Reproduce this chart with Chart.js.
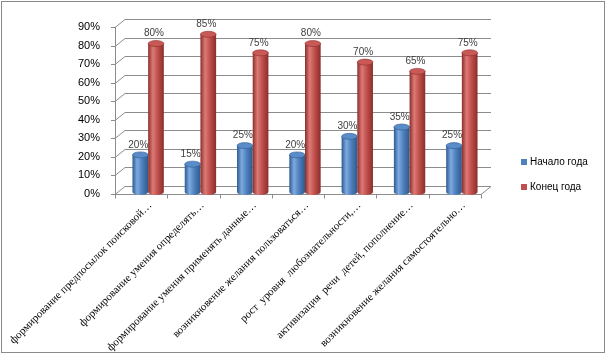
<!DOCTYPE html>
<html>
<head>
<meta charset="utf-8">
<script src="https://cdn.jsdelivr.net/npm/chart.js@4"></script>
<style>
  body { margin: 0; background: #fff; }
</style>
</head>
<body>
<canvas id="chart" width="608" height="356"></canvas>
<script>
const categories = [
    'формирование предпосылок поисковой…',
    'формирование умения определять…',
    'формирование умения применять данные…',
    'возникновение желания пользоваться…',
    'рост  уровня  любознательности,…',
    'активизация  речи  детей, пополнение…',
    'возникновение желания самостоятельно…'
];
const seriesNames = ['Начало года', 'Конец года'];
const startValues = [20, 15, 25, 20, 30, 35, 25];
const endValues = [80, 85, 75, 80, 70, 65, 75];
const yTicks = [0, 10, 20, 30, 40, 50, 60, 70, 80, 90];

// colours for the cylinders
const shades = [
    { main: '#4f81bd', dark: '#2d5a8f', light: '#7eaae2', top: '#5a8cc9' },
    { main: '#c0504d', dark: '#8a2e2b', light: '#dd7a76', top: '#c95956' }
];

const DX = 10, DY = 8;     // depth of the back wall
const SX = 7, SY = -2;     // bars sit in the middle of the floor

const wall3d = {
    id: 'wall3d',
    beforeDatasetsDraw(chart) {
        const ctx = chart.ctx;
        const { left, right, top, bottom } = chart.chartArea;
        const y = chart.scales.y;
        ctx.save();
        ctx.strokeStyle = '#8c8c8c';
        ctx.lineWidth = 1;
        ctx.beginPath();
        yTicks.forEach(v => {
            const py = Math.round(y.getPixelForValue(v)) + 0.5;
            ctx.moveTo(left - 4, py);
            ctx.lineTo(left, py);
            ctx.lineTo(left + DX, py - DY);
            ctx.lineTo(right + DX, py - DY);
        });
        // front vertical axis
        ctx.moveTo(left + 0.5, top);
        ctx.lineTo(left + 0.5, bottom);
        // floor front edge and right side
        const fb = Math.round(bottom) + 0.5;
        ctx.moveTo(left, fb);
        ctx.lineTo(right, fb);
        ctx.lineTo(right + DX, fb - DY);
        // category tick marks
        const n = categories.length;
        for (let i = 0; i <= n; i++) {
            const px = Math.round(left + i * (right - left) / n) + 0.5;
            ctx.moveTo(px, fb);
            ctx.lineTo(px, fb + 4);
        }
        ctx.stroke();
        ctx.restore();
    },
    beforeDatasetDraw() {
        return false;
    },
    afterDatasetsDraw(chart) {
        const ctx = chart.ctx;
        ctx.save();
        chart.data.datasets.forEach((ds, di) => {
            const meta = chart.getDatasetMeta(di);
            const c = shades[di];
            meta.data.forEach((el, i) => {
                const x = el.x + SX;
                const top = el.y + SY;
                const base = el.base + SY;
                const rx = el.width / 2;
                const ry = 3;
                const g = ctx.createLinearGradient(x - rx, 0, x + rx, 0);
                g.addColorStop(0, c.dark);
                g.addColorStop(0.3, c.light);
                g.addColorStop(0.6, c.main);
                g.addColorStop(1, c.dark);
                ctx.beginPath();
                ctx.moveTo(x - rx, top);
                ctx.lineTo(x - rx, base);
                ctx.ellipse(x, base, rx, ry, 0, Math.PI, 0, true);
                ctx.lineTo(x + rx, top);
                ctx.closePath();
                ctx.fillStyle = g;
                ctx.fill();
                ctx.beginPath();
                ctx.ellipse(x, top, rx, ry, 0, 0, Math.PI * 2);
                ctx.fillStyle = c.top;
                ctx.fill();
                ctx.strokeStyle = c.dark;
                ctx.lineWidth = 0.6;
                ctx.stroke();

                ctx.fillStyle = '#404040';
                ctx.font = '10px "Liberation Sans"';
                ctx.textAlign = 'center';
                ctx.textBaseline = 'bottom';
                ctx.fillText(ds.data[i] + '%', x - 2, top - 5);
            });
        });
        ctx.restore();
    },
    afterDraw(chart) {
        const ctx = chart.ctx;
        ctx.save();
        // legend
        ctx.font = '10px "Liberation Sans"';
        ctx.textAlign = 'left';
        ctx.textBaseline = 'middle';
        const ly = [162, 187];
        seriesNames.forEach((name, i) => {
            ctx.fillStyle = shades[i].main;
            ctx.fillRect(521, ly[i] - 3, 6, 6);
            ctx.fillStyle = '#000';
            ctx.fillText(name, 530, ly[i]);
        });
        // outer frame
        ctx.strokeStyle = '#8a8a8a';
        ctx.lineWidth = 1;
        ctx.strokeRect(1.5, 1.5, 603, 351);
        ctx.restore();
    }
};

new Chart(document.getElementById('chart'), {
    type: 'bar',
    data: {
        labels: categories,
        datasets: [
            { label: seriesNames[0], data: startValues, backgroundColor: shades[0].main },
            { label: seriesNames[1], data: endValues, backgroundColor: shades[1].main }
        ]
    },
    options: {
        responsive: false,
        devicePixelRatio: 1,
        animation: false,
        layout: { padding: { top: 27, left: 0, right: 127, bottom: 0 } },
        datasets: { bar: { categoryPercentage: 0.6, barPercentage: 1 } },
        plugins: {
            legend: { display: false },
            tooltip: { enabled: false }
        },
        scales: {
            x: {
                grid: { display: false, tickLength: 4 },
                border: { display: false },
                afterFit: scale => {
                    scale.height = 162;
                    scale.paddingLeft = 0;
                    scale.paddingRight = 0;
                },
                ticks: {
                    autoSkip: false,
                    minRotation: 45,
                    maxRotation: 45,
                    padding: 1,
                    labelOffset: 9,
                    color: '#000',
                    font: { family: '"Liberation Serif"', size: 11 }
                }
            },
            y: {
                min: 0,
                max: 90,
                grid: { display: false },
                border: { display: false },
                afterFit: scale => { scale.width = 115; },
                ticks: {
                    stepSize: 10,
                    padding: 7,
                    color: '#000',
                    font: { family: '"Liberation Sans"', size: 11 },
                    callback: v => v + '%'
                }
            }
        }
    },
    plugins: [wall3d]
});
</script>
</body>
</html>
